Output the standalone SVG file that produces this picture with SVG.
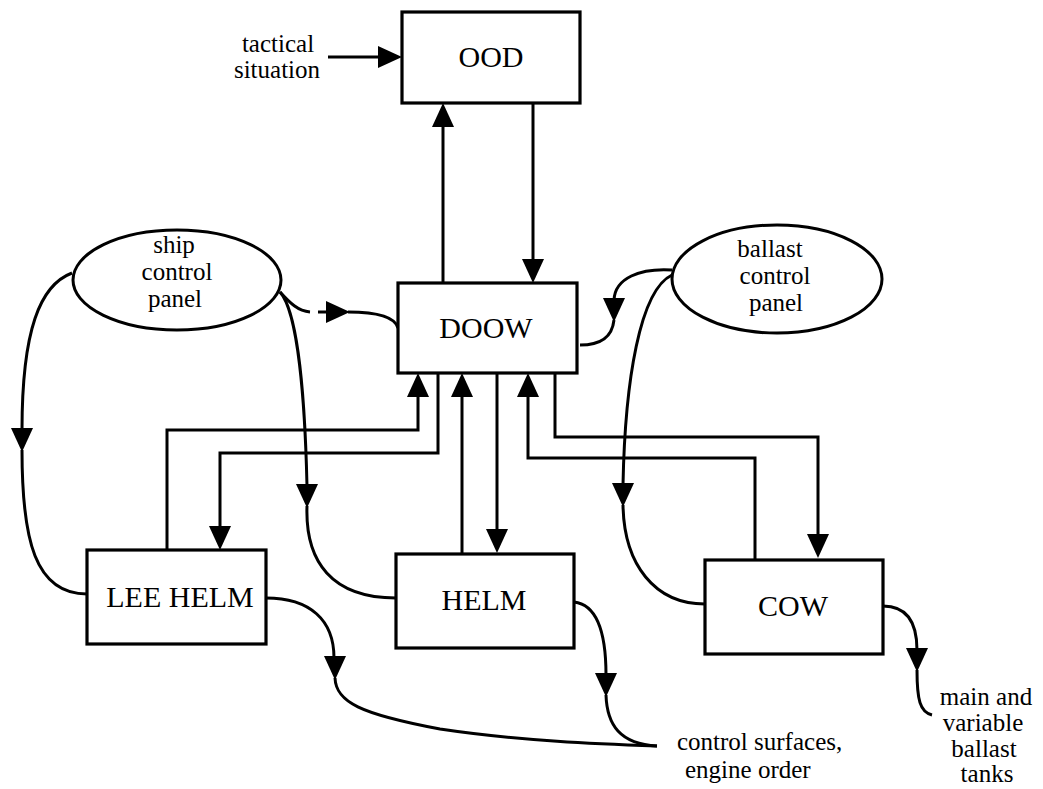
<svg xmlns="http://www.w3.org/2000/svg" xmlns:xlink="http://www.w3.org/1999/xlink" width="1043" height="789" viewBox="0 0 1043 789">
  <style>
    .box { fill: #fff; stroke: #000; stroke-width: 3.2; }
    .panel { fill: #fff; stroke: #000; stroke-width: 3; }
    .wire { fill: none; stroke: #000; stroke-width: 3; stroke-linejoin: miter; }
    .lbl { font-family: "Liberation Serif", "DejaVu Serif", "Times New Roman", serif; fill: #000; text-anchor: middle; }
    .big { font-size: 30px; }
    .small { font-size: 25px; }
    .left { text-anchor: start; }
  </style>
  <defs>
    <!-- solid arrowhead, tip at the origin, pointing along +x -->
    <path id="ah" d="M0,0 L-24,-11 L-24,11 Z" fill="#000"/>
  </defs>
  <rect width="1043" height="789" fill="#fff"/>

  <!-- connectors -->
  <g id="connectors">
    <!-- tactical situation into OOD -->
    <path class="wire" d="M328,57 H380"/>
    <use xlink:href="#ah" transform="translate(402,57)"/>

    <!-- DOOW up to OOD -->
    <path class="wire" d="M443,283 V125"/>
    <use xlink:href="#ah" transform="translate(443,103) rotate(-90)"/>
    <!-- OOD down to DOOW -->
    <path class="wire" d="M533,103 V261"/>
    <use xlink:href="#ah" transform="translate(533,283) rotate(90)"/>

    <!-- ship control panel to DOOW (broken line) -->
    <path class="wire" d="M280,292 C290,303 298,311 310,312"/>
    <path class="wire" d="M318,312 H330"/>
    <use xlink:href="#ah" transform="translate(350,312)"/>
    <path class="wire" d="M348,312 C378,312 395,317 398,328"/>

    <!-- ship control panel to HELM -->
    <path class="wire" d="M280,292 C298,312 305,400 307,486"/>
    <use xlink:href="#ah" transform="translate(307,508) rotate(90)"/>
    <path class="wire" d="M307,506 C305,562 332,598 396,598"/>

    <!-- ship control panel to LEE HELM -->
    <path class="wire" d="M72,273 C40,285 22,330 22,430"/>
    <use xlink:href="#ah" transform="translate(22,452) rotate(90)"/>
    <path class="wire" d="M22,450 C22,540 35,594 87,594"/>

    <!-- ballast control panel to DOOW -->
    <path class="wire" d="M672,270 C640,268 615,278 614,300"/>
    <use xlink:href="#ah" transform="translate(614,322) rotate(90)"/>
    <path class="wire" d="M614,320 C612,338 600,345 580,345"/>

    <!-- ballast control panel to COW -->
    <path class="wire" d="M672,275 C640,290 625,380 623,485"/>
    <use xlink:href="#ah" transform="translate(623,507) rotate(90)"/>
    <path class="wire" d="M623,505 C624,565 655,604 705,604"/>

    <!-- LEE HELM up to DOOW -->
    <path class="wire" d="M167,552 V430 H418 V395"/>
    <use xlink:href="#ah" transform="translate(418,373) rotate(-90)"/>
    <!-- DOOW down to LEE HELM -->
    <path class="wire" d="M438,373 V453 H220 V528"/>
    <use xlink:href="#ah" transform="translate(220,550) rotate(90)"/>

    <!-- HELM up to DOOW -->
    <path class="wire" d="M462,554 V395"/>
    <use xlink:href="#ah" transform="translate(462,373) rotate(-90)"/>
    <!-- DOOW down to HELM -->
    <path class="wire" d="M497,373 V531"/>
    <use xlink:href="#ah" transform="translate(497,553) rotate(90)"/>

    <!-- COW up to DOOW -->
    <path class="wire" d="M755,560 V458 H528 V395"/>
    <use xlink:href="#ah" transform="translate(528,373) rotate(-90)"/>
    <!-- DOOW down to COW -->
    <path class="wire" d="M555,373 V437 H818 V536"/>
    <use xlink:href="#ah" transform="translate(818,558) rotate(90)"/>

    <!-- LEE HELM to control surfaces -->
    <path class="wire" d="M266,598 C310,598 334,620 334,658"/>
    <use xlink:href="#ah" transform="translate(335,680) rotate(90)"/>
    <path class="wire" d="M335,678 C336,702 360,714 440,729 C520,741 600,744 657,746"/>

    <!-- HELM to control surfaces -->
    <path class="wire" d="M574,602 C600,605 606,640 606,675"/>
    <use xlink:href="#ah" transform="translate(606,697) rotate(90)"/>
    <path class="wire" d="M606,695 C607,725 620,744 657,746"/>

    <!-- COW to ballast tanks -->
    <path class="wire" d="M883,606 C905,606 917,620 917,650"/>
    <use xlink:href="#ah" transform="translate(917,672) rotate(90)"/>
    <path class="wire" d="M917,670 C917,700 920,712 932,715"/>
  </g>

  <!-- nodes -->
  <g id="ood">
    <rect class="box" x="402" y="12" width="178" height="91"/>
    <text class="lbl big" x="491" y="67">OOD</text>
  </g>
  <g id="doow">
    <rect class="box" x="398" y="283" width="179" height="90"/>
    <text class="lbl big" x="486" y="338">DOOW</text>
  </g>
  <g id="lee-helm">
    <rect class="box" x="87" y="550" width="179" height="94"/>
    <text class="lbl big" x="180" y="607">LEE HELM</text>
  </g>
  <g id="helm">
    <rect class="box" x="396" y="554" width="178" height="94"/>
    <text class="lbl big" x="484" y="610">HELM</text>
  </g>
  <g id="cow">
    <rect class="box" x="705" y="560" width="178" height="94"/>
    <text class="lbl big" x="793" y="616">COW</text>
  </g>
  <g id="ship-control-panel">
    <ellipse class="panel" cx="177" cy="280" rx="104" ry="50"/>
    <text class="lbl small" x="174" y="253">ship</text>
    <text class="lbl small" x="177" y="280">control</text>
    <text class="lbl small" x="175" y="307">panel</text>
  </g>
  <g id="ballast-control-panel">
    <ellipse class="panel" cx="777" cy="279" rx="105" ry="54"/>
    <text class="lbl small" x="770" y="257">ballast</text>
    <text class="lbl small" x="775" y="284">control</text>
    <text class="lbl small" x="776" y="311">panel</text>
  </g>
  <g id="tactical-situation">
    <text class="lbl small" x="278" y="52">tactical</text>
    <text class="lbl small" x="277" y="78">situation</text>
  </g>
  <g id="control-surfaces">
    <text class="lbl small left" x="677" y="750">control surfaces,</text>
    <text class="lbl small left" x="685" y="778">engine order</text>
  </g>
  <g id="ballast-tanks">
    <text class="lbl small" x="986" y="705">main and</text>
    <text class="lbl small" x="983" y="731">variable</text>
    <text class="lbl small" x="984" y="757">ballast</text>
    <text class="lbl small" x="987" y="782">tanks</text>
  </g>
</svg>
